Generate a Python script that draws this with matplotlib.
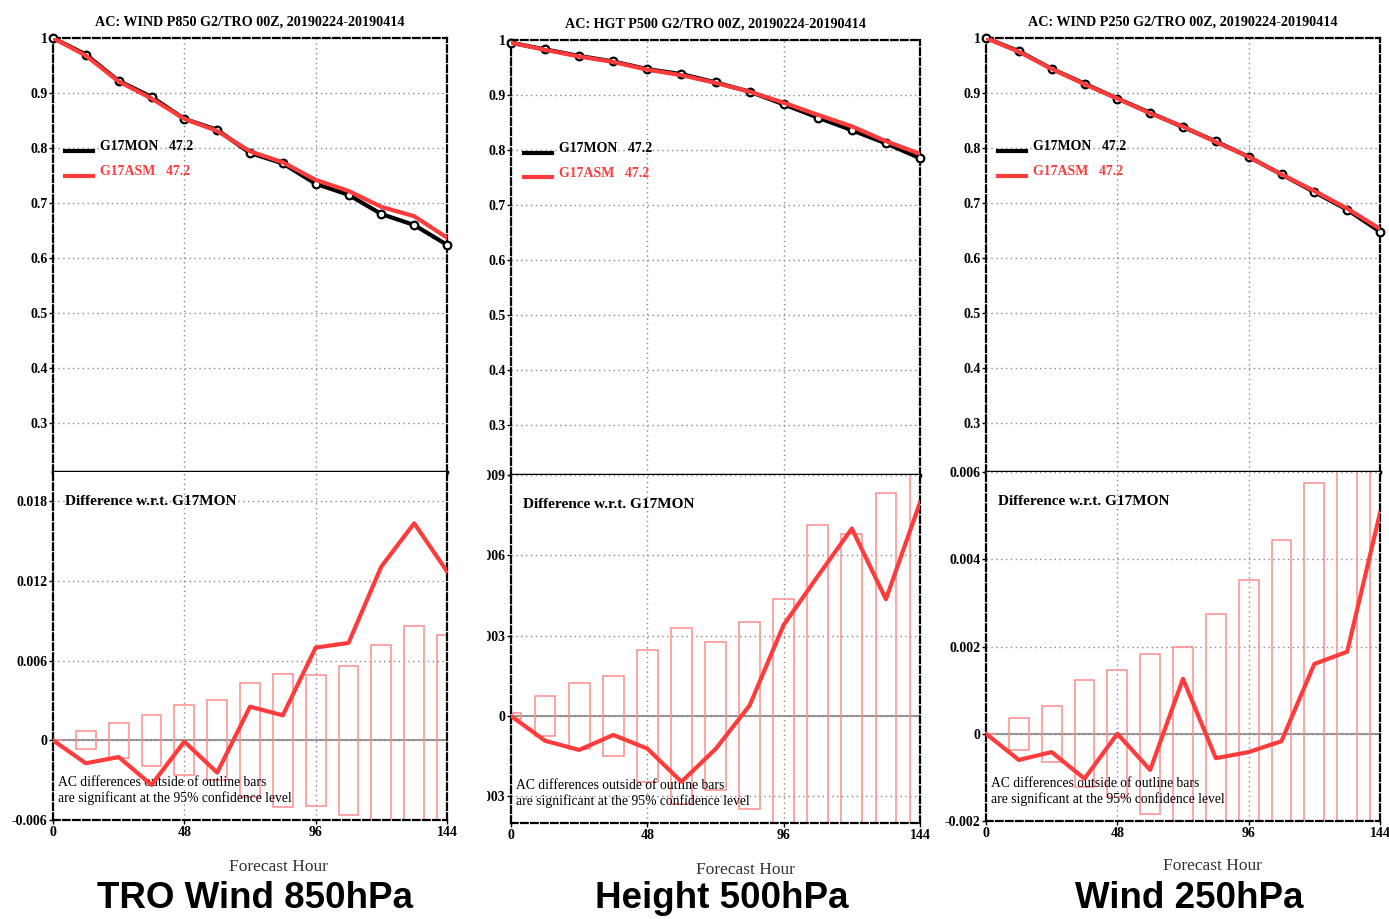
import numpy as np
import matplotlib
matplotlib.use("Agg")
import matplotlib.pyplot as plt
from matplotlib.patches import Rectangle

# forecast hours
hours = [0, 12, 24, 36, 48, 60, 72, 84, 96, 108, 120, 132, 144]

# WIND P850
ac850_mon = [1.0, 0.970, 0.922, 0.893, 0.853, 0.833, 0.791, 0.772, 0.735, 0.715, 0.680, 0.660, 0.624]
ac850_asm = [1.0, 0.968, 0.921, 0.890, 0.853, 0.831, 0.794, 0.774, 0.742, 0.722, 0.693, 0.676, 0.637]
diff850 = [0.0, -0.00173, -0.00126, -0.00336, -0.0001, -0.00243, 0.00253, 0.00188, 0.00698, 0.00733, 0.01308, 0.01634, 0.01272]
bar850 = [0.0, 0.00067, 0.00133, 0.0019, 0.00264, 0.0030, 0.0043, 0.0050, 0.00495, 0.0056, 0.0072, 0.0086, 0.0079]

# HGT P500
ac500_mon = [0.995, 0.983, 0.971, 0.961, 0.947, 0.938, 0.923, 0.906, 0.883, 0.859, 0.836, 0.812, 0.785]
ac500_asm = [0.995, 0.982, 0.970, 0.960, 0.946, 0.936, 0.922, 0.906, 0.886, 0.864, 0.843, 0.816, 0.793]
diff500 = [0.0, -0.00093, -0.00127, -0.00071, -0.00122, -0.00246, -0.00124, 0.00039, 0.0034, 0.00522, 0.0070, 0.00436, 0.00797]
bar500 = [0.00011, 0.00076, 0.00124, 0.00148, 0.00245, 0.0033, 0.00277, 0.00349, 0.00437, 0.00713, 0.0068, 0.00832, 0.0098]

# WIND P250
ac250_mon = [1.0, 0.976, 0.944, 0.917, 0.890, 0.864, 0.838, 0.812, 0.784, 0.752, 0.720, 0.688, 0.648]
ac250_asm = [1.0, 0.975, 0.944, 0.916, 0.890, 0.863, 0.839, 0.811, 0.784, 0.752, 0.722, 0.690, 0.653]
diff250 = [0.0, -0.0006, -0.00042, -0.00103, 0.0, -0.00083, 0.00126, -0.00056, -0.00042, -0.00017, 0.0016, 0.00188, 0.00506]
bar250 = [0.0, 0.00037, 0.00064, 0.00123, 0.00146, 0.00183, 0.0020, 0.00274, 0.00352, 0.00443, 0.00575, 0.0068, 0.0075]

titles = ["AC: WIND P850 G2/TRO 00Z, 20190224-20190414",
          "AC: HGT P500 G2/TRO 00Z, 20190224-20190414",
          "AC: WIND P250 G2/TRO 00Z, 20190224-20190414"]
captions = ["TRO Wind 850hPa", "Height 500hPa", "Wind 250hPa"]

RED = "#ff3b3b"
BARC = "#ff8c8c"
GFONT = ["Liberation Serif", "DejaVu Serif"]

W, H = 1389, 919
fig = plt.figure(figsize=(W / 100, H / 100), dpi=100)


def fx(px):
    return px / W


def fy(py):
    return 1 - py / H


def style_axes(ax):
    for s in ax.spines.values():
        s.set_linestyle((0, (3, 1.5)))
        s.set_linewidth(1.6)
        s.set_color("black")
    ax.tick_params(direction="out", length=3, width=1, labelsize=10, pad=1)
    for lab in ax.get_xticklabels() + ax.get_yticklabels():
        lab.set_fontfamily(GFONT)
        lab.set_fontweight("bold")
    ax.grid(True, linestyle=(0, (1, 2.5)), color="#888888", linewidth=1)


def column(left, right, top, mid, bot, mon, asm, diff, bars, ylo, dlim, dticks, dlabels,
           title, cap, cap_x, xlab_y):
    axt = fig.add_axes([fx(left), fy(mid), fx(right - left), fy(top) - fy(mid)])
    axb = fig.add_axes([fx(left), fy(bot), fx(right - left), fy(mid) - fy(bot)])

    # top: anomaly correlation (markers sit under the red line)
    axt.plot(hours, mon, color="black", lw=3, marker="o", ms=5.5, mfc="white",
             mec="black", mew=1.6, zorder=3, clip_on=False)
    axt.plot(hours, asm, color=RED, lw=3, zorder=4)
    axt.set_xlim(0, 144)
    axt.set_ylim(ylo, 1.0)
    axt.set_xticks([0, 48, 96, 144])
    axt.set_xticklabels([])
    axt.tick_params(axis="x", length=0)
    axt.set_yticks([0.3, 0.4, 0.5, 0.6, 0.7, 0.8, 0.9, 1.0])
    axt.set_yticklabels(["0.3", "0.4", "0.5", "0.6", "0.7", "0.8", "0.9", "1"])
    style_axes(axt)
    axt.spines["bottom"].set_linestyle("-")
    axt.spines["bottom"].set_linewidth(2.5)

    # legend
    axt.plot([4.5, 14.5], [0.795, 0.795], color="black", lw=3, clip_on=False)
    axt.plot([4.5, 14.5], [0.75, 0.75], color=RED, lw=3, clip_on=False)
    axt.text(17, 0.802, "G17MON   47.2", fontsize=10, fontweight="bold", family=GFONT,
             color="black", va="center")
    axt.text(17, 0.757, "G17ASM   47.2", fontsize=10, fontweight="bold", family=GFONT,
             color=RED, va="center")
    axt.set_title(title, fontsize=10.2, fontweight="bold", family=GFONT, pad=9)

    # bottom: differences
    axb.bar(hours, [2 * b for b in bars], bottom=[-b for b in bars], width=7.3,
            fill=False, edgecolor=BARC, linewidth=1.1, zorder=2)
    axb.axhline(0, color="#999999", lw=1.5, zorder=1)
    axb.plot(hours, diff, color=RED, lw=3, zorder=4)
    axb.set_xlim(0, 144)
    axb.set_ylim(*dlim)
    axb.set_xticks([0, 48, 96, 144])
    axb.set_xticklabels(["0", "48", "96", "144"])
    axb.set_yticks(dticks)
    axb.set_yticklabels(dlabels)
    style_axes(axb)
    axb.spines["top"].set_visible(False)
    axb.text(0.03, 0.915, "Difference w.r.t. G17MON", transform=axb.transAxes, fontsize=11,
             fontweight="bold", family=GFONT, va="center")
    axb.text(0.013, 0.085, "AC differences outside of outline bars\nare significant at the 95% confidence level",
             transform=axb.transAxes, fontsize=9.8, family=GFONT, va="center", linespacing=1.2)

    fig.text(fx(cap_x), fy(xlab_y), "Forecast Hour", fontsize=12.5, family=GFONT,
             ha="center", va="center", color="#333333")
    fig.text(fx(cap_x - 23), fy(898), cap, fontsize=26.5, fontweight="bold",
             family=["Liberation Sans", "DejaVu Sans"], ha="center", va="center")


column(53, 447, 38, 472, 820, ac850_mon, ac850_asm, diff850, bar850, 0.211,
       (-0.006, 0.0202), [-0.006, 0.0, 0.006, 0.012, 0.018],
       ["-0.006", "0", "0.006", "0.012", "0.018"], titles[0], captions[0], 278, 867)

column(511, 920, 40, 475, 823, ac500_mon, ac500_asm, diff500, bar500, 0.209,
       (-0.004, 0.009), [-0.003, 0.0, 0.003, 0.006, 0.009],
       ["-0.003", "0", "0.003", "0.006", "0.009"], titles[1], captions[1], 745, 870)

column(986, 1380, 38, 472, 821, ac250_mon, ac250_asm, diff250, bar250, 0.211,
       (-0.002, 0.006), [-0.002, 0.0, 0.002, 0.004, 0.006],
       ["-0.002", "0", "0.002", "0.004", "0.006"], titles[2], captions[2], 1212, 866)

# the middle image is cropped on its left edge in the lower half
fig.patches.append(Rectangle((fx(461), fy(840)), fx(487 - 461), fy(470) - fy(840),
                             transform=fig.transFigure, facecolor="white",
                             edgecolor="none", zorder=20))

fig.savefig("out.png", dpi=100, facecolor="white")
